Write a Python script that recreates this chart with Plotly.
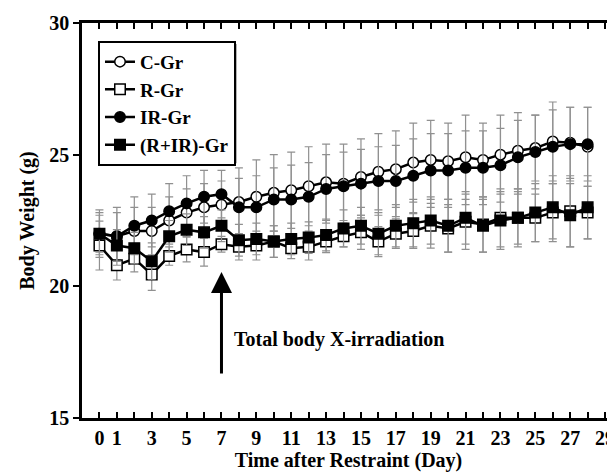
import plotly.graph_objects as go

days = list(range(29))

c_gr = [22.0, 21.9, 22.1, 22.1, 22.5, 22.8, 23.0, 23.1, 23.2, 23.4, 23.55, 23.65, 23.8, 23.95, 23.9,
        24.15, 24.35, 24.45, 24.7, 24.8, 24.75, 24.9, 24.8, 25.0, 25.15, 25.25, 25.5, 25.45, 25.3]
c_err = [0.8, 0.9, 0.9, 0.9, 0.9, 0.9, 0.9, 0.9, 1.3, 1.4, 1.45, 1.45, 1.5, 1.45, 1.5,
         1.45, 1.45, 1.45, 1.5, 1.5, 1.45, 1.6, 1.4, 1.5, 1.45, 1.25, 1.5, 1.35, 1.5]

r_gr = [21.55, 20.8, 21.05, 20.45, 21.15, 21.4, 21.3, 21.6, 21.5, 21.55, 21.7, 21.45, 21.5, 21.7, 21.9,
        22.05, 21.7, 22.0, 22.1, 22.3, 22.2, 22.45, 22.35, 22.6, 22.6, 22.6, 22.8, 22.85, 22.8]
r_err = [0.93, 0.56, 0.5, 0.6, 0.35, 0.47, 0.53, 0.3, 0.5, 0.55, 0.6, 0.4, 0.5, 0.42, 0.4,
         0.65, 0.57, 0.56, 0.66, 0.85, 0.9, 1.05, 1.05, 1.1, 1.0, 0.9, 1.1, 1.35, 1.0]

ir_gr = [22.0, 21.9, 22.3, 22.5, 22.85, 23.15, 23.4, 23.5, 23.0, 23.0, 23.3, 23.3, 23.4, 23.7, 23.8,
         23.9, 24.0, 24.0, 24.2, 24.4, 24.4, 24.5, 24.5, 24.6, 24.9, 25.1, 25.3, 25.4, 25.4]
ir_err = [0.9, 1.1, 1.1, 1.0, 1.05, 1.05, 1.0, 0.9, 1.1, 1.2, 1.2, 1.3, 1.3, 1.3, 1.3,
          1.3, 1.3, 1.35, 1.4, 1.4, 1.4, 1.4, 1.4, 1.4, 1.4, 1.4, 1.4, 1.4, 1.4]

rir_gr = [22.0, 21.55, 21.45, 20.95, 21.9, 22.15, 22.05, 22.3, 21.75, 21.8, 21.7, 21.8, 21.85, 21.95, 22.2,
          22.3, 22.0, 22.3, 22.4, 22.5, 22.3, 22.6, 22.3, 22.5, 22.6, 22.8, 23.0, 22.7, 23.0]
rir_err = [0.7, 0.6, 0.6, 0.7, 0.6, 0.6, 0.6, 0.6, 0.6, 0.6, 0.6, 0.6, 0.6, 0.6, 0.7,
           0.7, 0.8, 0.8, 0.9, 0.9, 1.0, 1.0, 1.0, 1.1, 1.1, 1.1, 1.2, 1.2, 1.2]

series_names = ["C-Gr", "R-Gr", "IR-Gr", "(R+IR)-Gr"]
x_tick_vals = list(range(30))
x_tick_text = [str(v) if (v == 0 or v % 2 == 1) else "" for v in x_tick_vals]
y_tick_vals = [15, 20, 25, 30]

arrow_day = 7
arrow_tip = 20.54
arrow_tail = 16.63
note_text = "Total body X-irradiation"

FONT = "Liberation Serif, Times New Roman, serif"

fig = go.Figure()

def add(name, y, err, symbol, fill):
    fig.add_trace(go.Scatter(
        x=days, y=y, name=name, mode="lines+markers",
        line=dict(color="black", width=2.5),
        marker=dict(symbol=symbol, size=10.5, color=fill, line=dict(color="black", width=1.5)),
        error_y=dict(type="data", array=err, visible=True, color="#909090", thickness=1.2, width=4),
    ))

add(series_names[0], c_gr, c_err, "circle", "white")
add(series_names[1], r_gr, r_err, "square", "white")
add(series_names[2], ir_gr, ir_err, "circle", "black")
add(series_names[3], rir_gr, rir_err, "square", "black")

fig.add_annotation(x=arrow_day, y=arrow_tip, ax=arrow_day, ay=arrow_tail, axref="x", ayref="y",
                   xref="x", yref="y", text="", showarrow=True, arrowhead=2, arrowsize=1.4,
                   arrowwidth=3, arrowcolor="black")
fig.add_annotation(x=7.62, y=18.0, xref="x", yref="y", text=note_text, showarrow=False,
                   xanchor="left", yanchor="middle",
                   font=dict(family=FONT, size=20, color="black", weight="bold"))

# drop shadow behind the legend box
fig.add_shape(type="rect", xref="paper", yref="paper",
              x0=0.036, x1=0.2895, y0=0.645, y1=0.947,
              fillcolor="black", line=dict(width=0), layer="above")

# the page body has an 8px margin, so the figure is shrunk by 8px on each side
fig.update_layout(
    width=607, height=467,
    margin=dict(l=74, r=0, t=15, b=57),
    paper_bgcolor="white", plot_bgcolor="white",
    font=dict(family=FONT, size=19, color="black", weight="bold"),
    showlegend=True,
    legend=dict(x=0.03, y=0.955, xanchor="left", yanchor="top",
                bgcolor="white", bordercolor="black", borderwidth=2,
                font=dict(family=FONT, size=19, color="black", weight="bold"),
                tracegroupgap=0),
)
fig.update_xaxes(
    automargin=False,
    range=[-1, 29.57], tickmode="array", tickvals=x_tick_vals, ticktext=x_tick_text,
    ticks="inside", ticklen=6, tickwidth=1.5, tickcolor="black",
    showline=True, linewidth=2.5, linecolor="black", mirror="ticks",
    showgrid=False, zeroline=False,
    tickfont=dict(family=FONT, size=20, color="black", weight="bold"),
    ticklabelstandoff=0, ticklabeloverflow="allow",
    title=dict(text="Time after Restraint (Day)", standoff=6,
               font=dict(family=FONT, size=20, color="black", weight="bold")),
)
fig.update_yaxes(
    automargin=False,
    range=[15, 30], tickmode="array", tickvals=y_tick_vals,
    ticks="outside", ticklen=6, tickwidth=1.5, tickcolor="black",
    showline=True, linewidth=2.5, linecolor="black", mirror=False,
    showgrid=False, zeroline=False,
    tickfont=dict(family=FONT, size=20, color="black", weight="bold"),
    title=dict(text="Body Weight (g)", standoff=10,
               font=dict(family=FONT, size=20, color="black", weight="bold")),
)

fig.write_html("out.html")
